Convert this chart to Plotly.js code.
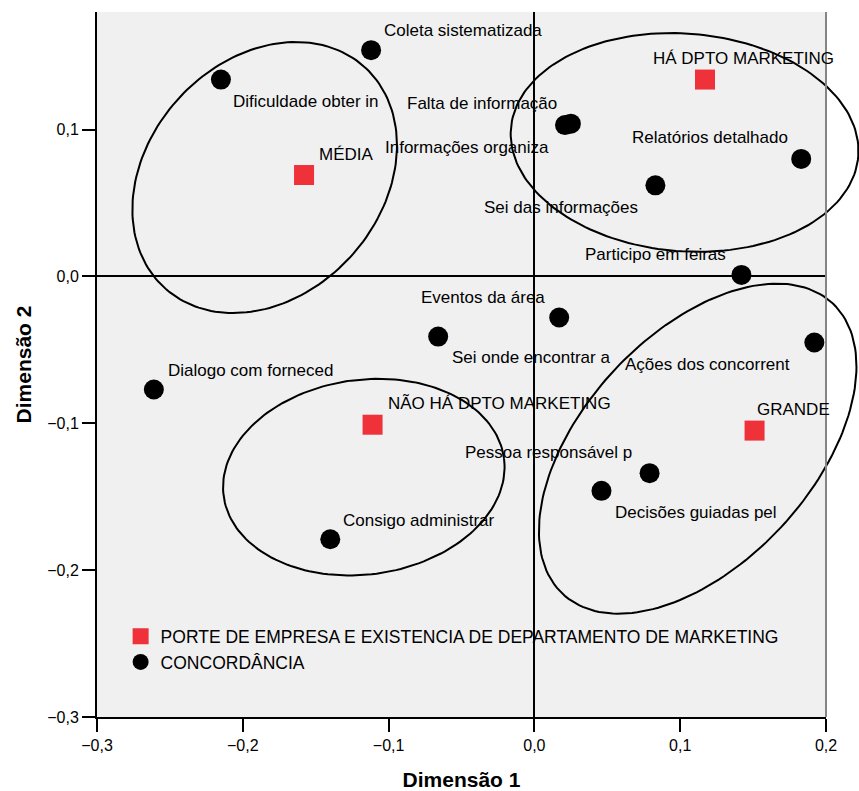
<!DOCTYPE html>
<html><head><meta charset="utf-8">
<script src="https://cdn.plot.ly/plotly-3.0.1.min.js"></script>
<style>html,body{margin:0;padding:0;background:#fff}#chart{width:859px;height:791px}</style>
</head><body><div id="chart"></div>
<script>
// ---- data ----
const porteNames = ["MÉDIA", "HÁ DPTO MARKETING", "NÃO HÁ DPTO MARKETING", "GRANDE"];
const porteX = [-0.158, 0.117, -0.111, 0.151];
const porteY = [0.069, 0.134, -0.101, -0.105];

const concNames = ["Coleta sistematizada", "Dificuldade obter in", "Falta de informação",
  "Informações organiza", "Relatórios detalhado", "Sei das informações", "Participo em feiras",
  "Eventos da área", "Sei onde encontrar a", "Ações dos concorrent", "Pessoa responsável p",
  "Decisões guiadas pel", "Dialogo com forneced", "Consigo administrar"];
const concX = [-0.112, -0.215, 0.025, 0.021, 0.183, 0.083, 0.142, 0.017, -0.066, 0.192, 0.079, 0.046, -0.261, -0.140];
const concY = [0.154, 0.134, 0.104, 0.103, 0.080, 0.062, 0.001, -0.028, -0.041, -0.045, -0.134, -0.146, -0.077, -0.179];

const xTicks = [-0.3, -0.2, -0.1, 0.0, 0.1, 0.2];
const yTicks = [-0.3, -0.2, -0.1, 0.0, 0.1];

// group ellipses: centre, semi-axes (data units), rotation (deg)
const ellCx = [-0.185, 0.103, -0.117, 0.112];
const ellCy = [0.0673, 0.0912, -0.1367, -0.1173];
const ellA = [0.1018, 0.1195, 0.0970, 0.1355];
const ellB = [0.0799, 0.0741, 0.0663, 0.0783];
const ellAng = [47, -4.5, 7.6, 46.8];

// ---- label placement (style: anchor, pixel shifts) ----
const porteLab = [["left", 13, 21], ["left", -54, 21], ["left", 13, 21], ["left", 0, 21]];
const concLab = [["left", 11, 20], ["left", 10, -22], ["right", -12, 20], ["right", -14, -22],
  ["right", -11, 21], ["right", -15, -22], ["right", -13, 20], ["right", -12, 20],
  ["left", 12, -21], ["right", -22, -22], ["right", -16, 21], ["left", 12, -22],
  ["left", 12, 19], ["left", 11, 19]];

const FONT = "Liberation Sans, Arial, Helvetica, sans-serif";
const XRANGE = [-0.3, 0.2], YRANGE = [-0.3, 0.18];
const plotLeft = 97, plotRight = 826, figW = 859;
const dom = (plotRight - plotLeft) / (figW - plotLeft);
const x2max = XRANGE[0] + (XRANGE[1] - XRANGE[0]) / dom;

const traces = [
  {type: "scatter", mode: "markers", name: "PORTE DE EMPRESA E EXISTENCIA DE DEPARTAMENTO DE MARKETING",
   x: porteX, y: porteY, text: porteNames, xaxis: "x", yaxis: "y", cliponaxis: false,
   marker: {symbol: "square", size: 20, color: "#ef3139"}},
  {type: "scatter", mode: "markers", name: "CONCORDÂNCIA",
   x: concX, y: concY, text: concNames, xaxis: "x", yaxis: "y", cliponaxis: false,
   marker: {symbol: "circle", size: 20, color: "#000000"}}
];

for (let i = 0; i < ellCx.length; i++) {
  const ex = [], ey = [];
  const th = ellAng[i] * Math.PI / 180;
  for (let k = 0; k <= 180; k++) {
    const t = 2 * Math.PI * k / 180;
    const u = ellA[i] * Math.cos(t), v = ellB[i] * Math.sin(t);
    ex.push(ellCx[i] + u * Math.cos(th) - v * Math.sin(th));
    ey.push(ellCy[i] + u * Math.sin(th) + v * Math.cos(th));
  }
  traces.push({type: "scatter", mode: "lines", x: ex, y: ey, xaxis: "x2", yaxis: "y2",
    showlegend: false, hoverinfo: "skip", line: {color: "#000", width: 2}});
}

const annotations = [];
porteNames.forEach((n, i) => annotations.push({x: porteX[i], y: porteY[i], xref: "x", yref: "y",
  text: n, showarrow: false, xanchor: porteLab[i][0], yanchor: "middle",
  xshift: porteLab[i][1], yshift: porteLab[i][2], font: {family: FONT, size: 17, color: "#000"}}));
concNames.forEach((n, i) => annotations.push({x: concX[i], y: concY[i], xref: "x", yref: "y",
  text: n, showarrow: false, xanchor: concLab[i][0], yanchor: "middle",
  xshift: concLab[i][1], yshift: concLab[i][2], font: {family: FONT, size: 17, color: "#000"}}));

const layout = {
  width: 859, height: 791,
  margin: {l: 97, r: 0, t: 12, b: 74, pad: 0},
  paper_bgcolor: "#ffffff", plot_bgcolor: "rgba(0,0,0,0)",
  separators: ",.",
  font: {family: FONT, size: 16, color: "#000"},
  showlegend: true,
  legend: {x: 0.031, y: 0.14, xanchor: "left", yanchor: "top", bgcolor: "rgba(0,0,0,0)",
    font: {family: FONT, size: 17.5, color: "#000"}, itemsizing: "trace"},
  xaxis: {domain: [0, dom], range: XRANGE, anchor: "y", tickvals: xTicks, tickformat: ".1f",
    ticks: "outside", ticklen: 13, tickwidth: 2, tickcolor: "#000",
    showline: true, linecolor: "#000", linewidth: 2, showgrid: false,
    zeroline: true, zerolinecolor: "#000", zerolinewidth: 2,
    tickfont: {family: FONT, size: 16, color: "#000"},
    title: {text: "Dimensão 1", standoff: 20, font: {family: FONT, size: 21, color: "#000", weight: "bold"}}},
  yaxis: {domain: [0, 1], range: YRANGE, anchor: "x", tickvals: yTicks, tickformat: ".1f",
    ticks: "outside", ticklen: 13, tickwidth: 2, tickcolor: "#000",
    showline: true, linecolor: "#000", linewidth: 2, showgrid: false,
    zeroline: true, zerolinecolor: "#000", zerolinewidth: 2,
    tickfont: {family: FONT, size: 16, color: "#000"},
    title: {text: "Dimensão 2", standoff: 10, font: {family: FONT, size: 21, color: "#000", weight: "bold"}}},
  xaxis2: {domain: [0, 1], range: [XRANGE[0], x2max], anchor: "y2", visible: false, fixedrange: true},
  yaxis2: {domain: [0, 1], range: YRANGE, anchor: "x2", visible: false, fixedrange: true},
  shapes: [
    {type: "rect", xref: "x", yref: "y", x0: XRANGE[0], x1: XRANGE[1], y0: YRANGE[0], y1: YRANGE[1],
     fillcolor: "#f0f0f0", line: {width: 0}, layer: "below"},
    {type: "line", xref: "x2", yref: "y2", x0: XRANGE[1], x1: XRANGE[1], y0: YRANGE[0], y1: YRANGE[1],
     line: {color: "#858585", width: 2}, layer: "above"}
  ],
  annotations: annotations
};

Plotly.newPlot("chart", traces, layout, {displayModeBar: false, staticPlot: true});
</script>
</body></html>
